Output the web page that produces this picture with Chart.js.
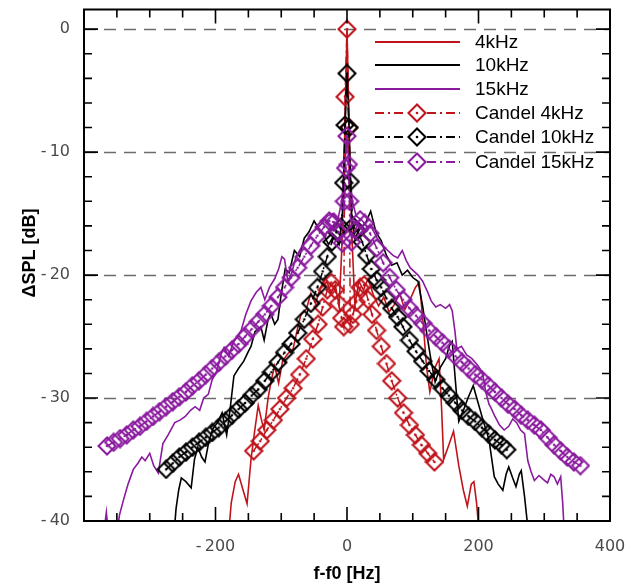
<!DOCTYPE html>
<html>
<head>
<meta charset="utf-8">
<script src="https://cdn.jsdelivr.net/npm/chart.js@4.4.0/dist/chart.umd.min.js"></script>
<style>
  html, body { margin: 0; padding: 0; background: #fff; overflow: hidden; }
  canvas { display: block; }
</style>
</head>
<body>
<canvas id="chart" width="628" height="585"></canvas>
<script>
// ---- data (f - f0 in Hz, delta SPL in dB) ----
const freq4k = [-180,-176,-170,-165,-158,-152,-146,-140,-135,-130,-126,-120,-115,-110,-104,-98,-90,-82,-75,-70,-62,-55,-48,-40,-32,-25,-18,-12,-8,-5,-2,0,2,5,8,12,18,25,32,40,48,56,64,72,80,88,96,104,110,116,121,126,134,140,144,147,155,162,170,177,183,189,193,197,201];
const spl4k = [-41,-38.5,-36.8,-36.2,-37.5,-38.6,-35,-32.5,-30.6,-31.8,-32.6,-30,-28.5,-27.4,-28.8,-27,-26.4,-26,-24.3,-23.2,-22.8,-21.5,-22.3,-21,-20.2,-21.5,-20.8,-22.5,-18,-12,-5,0,-5,-12,-17.5,-22.5,-20.5,-21.2,-20.3,-21.6,-22.5,-21.8,-23,-22.4,-21.5,-22.8,-22,-21,-20.6,-24,-27.5,-29.5,-27.5,-26.8,-31,-35,-33.8,-32.7,-35.5,-37.5,-38.8,-37,-36.8,-38.5,-41];

const freq10k = [-263,-260,-256,-252,-245,-237,-232,-227,-221,-216,-210,-204,-197,-190,-183,-178,-172,-165,-157,-150,-146,-140,-131,-126,-120,-116,-110,-105,-100,-94,-88,-80,-72,-65,-58,-50,-42,-35,-28,-20,-12,-7,-4,-2,0,2,4,7,12,20,28,36,44,52,60,68,76,84,92,100,108,115,122,128,134,142,150,156,160,165,170,177,184,192,200,208,216,224,230,237,242,246,252,257,262,265,270,274,276];
const spl10k = [-41,-39,-37.5,-36.5,-36.8,-37.3,-35,-34,-34.8,-35.2,-33.5,-32.5,-32,-31.2,-33,-31,-28.2,-27.6,-27,-26.2,-25.8,-24.6,-24.2,-25.3,-23.6,-23.1,-24,-23.6,-21.5,-19.5,-19.8,-18,-18.5,-17,-16.5,-15.6,-16.3,-16.8,-17.5,-16.8,-17.5,-15,-10,-6,-3.6,-6,-10,-15,-17,-16.2,-15.8,-14.8,-16.5,-17.2,-18.4,-19.2,-19,-20,-19.6,-20.2,-20.5,-22.5,-25,-27,-28.7,-27.5,-26.8,-25.7,-25.4,-28.7,-31.9,-31,-30,-29,-30.5,-32,-33.4,-36.4,-37,-37.5,-36.2,-35.6,-36.5,-37.2,-36.2,-35.9,-38,-40,-41];

const freq15k = [-370,-366,-363,-356,-350,-346,-340,-333,-325,-318,-312,-307,-300,-294,-287,-280,-272,-262,-254,-246,-238,-231,-224,-218,-211,-205,-198,-192,-187,-180,-173,-167,-161,-154,-146,-138,-131,-125,-118,-110,-104,-99,-95,-90,-84,-78,-70,-62,-54,-46,-38,-30,-22,-14,-8,-4,0,4,8,14,22,30,38,46,54,62,70,77,84,90,96,102,108,115,122,128,135,142,150,156,160,164,167,174,182,190,198,206,211,216,219,225,232,239,246,252,258,264,270,275,280,285,292,298,305,310,315,320,325,328,330];
const spl15k = [-41,-39.3,-41,null,-41,-39.5,-38.3,-37,-35.8,-35.3,-34.8,-35.1,-34.5,-35.5,-36.1,-33.7,-33,-32,-31.8,-31.5,-31,-30.7,-31,-30,-29.7,-28.5,-27.8,-26.5,-25.9,-26.6,-25.5,-25,-24.5,-23.2,-22.1,-21.4,-21,-22,-21,-20.3,-19.5,-18.5,-18.7,-20.5,-19.8,-18.6,-17.8,-17.2,-16.6,-16.2,-15.8,-15.2,-15,-15.5,-14,-11.5,-8.7,-11.5,-14,-15.2,-15.5,-16,-16.2,-17,-17.6,-18,-18.4,-18.6,-18,-18.8,-19.4,-19.7,-20,-20.5,-21.3,-22.1,-22.6,-22.4,-22.7,-22.4,-22.9,-24.5,-26,-25.8,-26.5,-26.8,-27.3,-27.9,-29.5,-30.5,-30.8,-31.5,-32.2,-32.6,-32.3,-31.7,-32,-32.6,-32.9,-35.1,-36,-36.7,-36.3,-36.6,-36.9,-36.2,-36.4,-37,-36.4,-38.5,-40.5];

const candelFreq4k = [-142,-132,-122,-112,-102,-92,-82,-72,-62,-52,-44,-37,-30,-24,-18,-13,-8,-5,-3,0,3,5,9,14,20,26,32,38,45,52,60,68,77,86,95,104,113,123,133];
const candelSpl4k = [-34.3,-33.5,-32.6,-31.8,-30.9,-30,-29.2,-28.1,-26.8,-25.2,-24,-22.6,-21.2,-20.6,-21.2,-22.3,-23.5,-24.2,-5.5,0,-8,-24,-23.2,-22.2,-21,-20.8,-22,-23.2,-24.5,-25.8,-27.2,-28.6,-30,-31.2,-32.2,-33,-33.8,-34.5,-35.2];

const candelFreq10k = [-275,-265,-255,-245,-235,-225,-215,-205,-195,-185,-175,-165,-155,-145,-135,-125,-115,-105,-95,-85,-75,-65,-55,-45,-37,-30,-23,-16,-9,-5,-3,0,3,5,9,16,23,30,37,45,52,60,68,77,85,95,105,115,125,135,145,155,165,175,185,195,205,215,225,235,243];
const candelSpl10k = [-35.8,-35.3,-34.8,-34.4,-34,-33.6,-33.2,-32.8,-32.4,-31.9,-31.4,-30.9,-30.4,-29.8,-29.3,-28.6,-27.9,-27.1,-26.3,-25.6,-24.7,-23.6,-22.3,-21,-19.7,-18.5,-17.3,-16.5,-16.1,-12.5,-7.8,-3.6,-8,-12.4,-16,-16.4,-17.3,-18.4,-19.5,-20.4,-21,-21.9,-22.7,-23.4,-24.2,-25.3,-26.2,-27,-27.8,-28.5,-29.2,-29.8,-30.4,-31,-31.5,-31.9,-32.4,-32.9,-33.4,-33.8,-34.2];

const candelFreq15k = [-365,-355,-345,-335,-325,-315,-305,-295,-285,-275,-265,-255,-245,-235,-225,-215,-205,-195,-185,-175,-165,-155,-145,-135,-125,-115,-105,-95,-85,-75,-65,-55,-45,-35,-27,-20,-13,-7,-4,-2,0,2,4,7,13,20,27,35,45,55,65,75,85,95,105,115,125,135,145,155,165,175,185,195,205,215,225,235,245,255,265,275,285,295,305,315,325,335,345,355];
const candelSpl15k = [-33.9,-33.6,-33.3,-33,-32.6,-32.3,-31.9,-31.5,-31.1,-30.7,-30.3,-29.9,-29.5,-29,-28.6,-28.1,-27.6,-27.1,-26.6,-26.1,-25.6,-25,-24.4,-23.8,-23.2,-22.5,-21.8,-21,-20.2,-19.4,-18.5,-17.6,-16.8,-16.1,-15.6,-15.7,-16.5,-17.4,-14,-11.3,-8.7,-11,-14,-17.3,-16.3,-15.5,-15.8,-16.6,-17.8,-19,-20.2,-21.2,-22,-22.7,-23.3,-23.9,-24.5,-25,-25.5,-26,-26.6,-27.1,-27.6,-28.1,-28.5,-29,-29.5,-30,-30.5,-30.9,-31.4,-31.8,-32.2,-32.6,-33.2,-33.8,-34.3,-34.8,-35.2,-35.5];

const xTicks = [-200, 0, 200, 400];
const yTicks = [-40, -30, -20, -10, 0];
const yGrid = [-30, -20, -10, 0];

const RED = '#c0141c';
const BLACK = '#000000';
const PURPLE = '#8a1a9e';
const DASHDOT = [9, 4, 2, 4];

function zip(xs, ys) {
  return xs.map((x, i) => ({ x: x, y: ys[i] }));
}

// hollow diamond with a dot in the middle, like the Candel markers
function diamond(color) {
  const c = document.createElement('canvas');
  c.width = 20; c.height = 20;
  const g = c.getContext('2d');
  g.strokeStyle = color;
  g.lineWidth = 2.1;
  g.beginPath();
  g.moveTo(10, 1.5); g.lineTo(18.5, 10); g.lineTo(10, 18.5); g.lineTo(1.5, 10);
  g.closePath();
  g.stroke();
  g.fillStyle = color;
  g.beginPath();
  g.arc(10, 10, 1.3, 0, Math.PI * 2);
  g.fill();
  return c;
}

const solid = (label, data, color, order) => ({
  label, data, borderColor: color, borderWidth: 1.6, pointRadius: 0,
  showLine: true, spanGaps: false, order
});
const candel = (label, data, color, order) => ({
  label, data, borderColor: color, borderWidth: 1.5, borderDash: DASHDOT,
  pointStyle: diamond(color), pointRadius: 8, showLine: true, order
});

const datasets = [
  solid('4kHz', zip(freq4k, spl4k), RED, 6),
  solid('10kHz', zip(freq10k, spl10k), BLACK, 5),
  solid('15kHz', zip(freq15k, spl15k), PURPLE, 4),
  candel('Candel 4kHz', zip(candelFreq4k, candelSpl4k), RED, 3),
  candel('Candel 10kHz', zip(candelFreq10k, candelSpl10k), BLACK, 2),
  candel('Candel 15kHz', zip(candelFreq15k, candelSpl15k), PURPLE, 1)
];

const legendRows = [42, 65, 89, 113, 137, 162];

// the scales must not widen the plot area for their labels
const noPad = s => { s.paddingLeft = 0; s.paddingRight = 0; s.paddingTop = 0; s.paddingBottom = 0; };

// gridlines, inward ticks, frame, axis titles and the in-plot legend
const decor = {
  id: 'decor',
  beforeDatasetsDraw(chart) {
    const { ctx, chartArea: a, scales: { y } } = chart;
    ctx.save();
    ctx.strokeStyle = '#6b6b6b';
    ctx.lineWidth = 1.5;
    ctx.setLineDash([12, 8]);
    yGrid.forEach(v => {
      const py = Math.round(y.getPixelForValue(v)) + 0.5;
      ctx.beginPath(); ctx.moveTo(a.left, py); ctx.lineTo(a.right, py); ctx.stroke();
    });
    ctx.restore();
  },
  afterDatasetsDraw(chart) {
    const { ctx, chartArea: a, scales: { x, y } } = chart;
    ctx.save();
    ctx.strokeStyle = '#000';
    ctx.lineWidth = 1.6;
    for (let v = -350; v <= 350; v += 50) {
      const len = v % 200 === 0 ? 14 : 8;
      const px = x.getPixelForValue(v);
      ctx.beginPath();
      ctx.moveTo(px, a.bottom); ctx.lineTo(px, a.bottom - len);
      ctx.moveTo(px, a.top); ctx.lineTo(px, a.top + len);
      ctx.stroke();
    }
    for (let v = -38; v <= 0; v += 2) {
      const len = v % 10 === 0 ? 14 : 8;
      const py = y.getPixelForValue(v);
      ctx.beginPath();
      ctx.moveTo(a.left, py); ctx.lineTo(a.left + len, py);
      ctx.moveTo(a.right, py); ctx.lineTo(a.right - len, py);
      ctx.stroke();
    }
    ctx.lineWidth = 2;
    ctx.strokeRect(a.left, a.top, a.right - a.left, a.bottom - a.top);
    ctx.restore();
  },
  afterDraw(chart) {
    const { ctx } = chart;
    ctx.save();
    ctx.fillStyle = '#000';
    ctx.font = 'bold 18px "Liberation Sans"';
    ctx.textAlign = 'center';
    ctx.textBaseline = 'middle';
    ctx.fillText('f-f0 [Hz]', chart.scales.x.getPixelForValue(0), 574);
    ctx.save();
    ctx.translate(30, 253);
    ctx.rotate(-Math.PI / 2);
    ctx.fillText('\u0394SPL [dB]', 0, 0);
    ctx.restore();

    chart.data.datasets.forEach((ds, i) => {
      const ly = legendRows[i];
      ctx.strokeStyle = ds.borderColor;
      ctx.lineWidth = 2;
      ctx.setLineDash(ds.borderDash || []);
      ctx.beginPath();
      if (ds.pointStyle) {
        ctx.moveTo(375, ly); ctx.lineTo(407, ly);
        ctx.moveTo(427, ly); ctx.lineTo(460, ly);
      } else {
        ctx.moveTo(375, ly); ctx.lineTo(460, ly);
      }
      ctx.stroke();
      ctx.setLineDash([]);
      if (ds.pointStyle) {
        ctx.drawImage(ds.pointStyle, 417 - 10, ly - 10);
      }
      ctx.fillStyle = '#000';
      ctx.font = '19px "Liberation Sans"';
      ctx.textAlign = 'left';
      ctx.fillText(ds.label, 475, ly + 1);
    });
    ctx.restore();
  }
};

const tickFont = { family: 'DejaVu Sans', size: 16 };
const fmt = v => (v < 0 ? '-\u2009' + (-v) : String(v));

new Chart(document.getElementById('chart'), {
  type: 'scatter',
  data: { datasets },
  options: {
    responsive: false,
    devicePixelRatio: 1,
    animation: false,
    layout: { padding: { left: 0, right: 18, top: 7, bottom: 0 } },
    plugins: { legend: { display: false }, tooltip: { enabled: false } },
    scales: {
      x: {
        type: 'linear', min: -400, max: 400,
        grid: { display: false, drawTicks: false },
        border: { display: false },
        afterBuildTicks: s => { s.ticks = xTicks.map(v => ({ value: v })); },
        afterFit: s => { s.height = 64; noPad(s); },
        ticks: { padding: 16, color: '#4a4a4a', font: tickFont, maxRotation: 0, autoSkip: false, callback: fmt }
      },
      y: {
        type: 'linear', min: -40, max: 1.6,
        grid: { display: false, drawTicks: false },
        border: { display: false },
        afterBuildTicks: s => { s.ticks = yTicks.map(v => ({ value: v })); },
        afterFit: s => { s.width = 84; noPad(s); },
        ticks: { padding: 14, color: '#4a4a4a', font: tickFont, autoSkip: false, callback: fmt }
      }
    }
  },
  plugins: [decor]
});
</script>
</body>
</html>
